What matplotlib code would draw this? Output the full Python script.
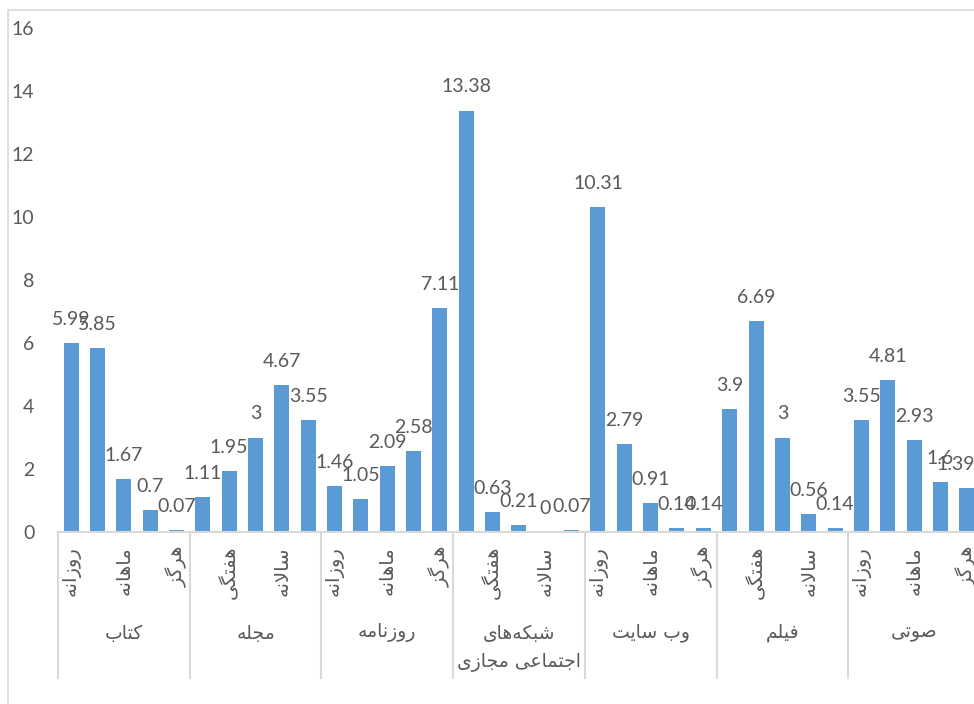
import numpy as np
import matplotlib
matplotlib.use('Agg')
import matplotlib.pyplot as plt
from matplotlib.patches import Rectangle
from matplotlib.lines import Line2D

plt.rcParams['font.family'] = ['Lato', 'DejaVu Sans']

groups = ['کتاب', 'مجله', 'روزنامه', 'شبکه‌های\nاجتماعی مجازی', 'وب سایت', 'فیلم', 'صوتی']
periods = ['روزانه', 'هفتگی', 'ماهانه', 'سالانه', 'هرگز']
values = [
    [5.99, 5.85, 1.67, 0.7, 0.07],
    [1.11, 1.95, 3, 4.67, 3.55],
    [1.46, 1.05, 2.09, 2.58, 7.11],
    [13.38, 0.63, 0.21, 0, 0.07],
    [10.31, 2.79, 0.91, 0.14, 0.14],
    [3.9, 6.69, 3, 0.56, 0.14],
    [3.55, 4.81, 2.93, 1.6, 1.39],
]
yticks = [0, 2, 4, 6, 8, 10, 12, 14, 16]

# minimal arabic/persian shaping (matplotlib has no shaping engine)
FORMS = {
    'ا': ('\uFE8D', '\uFE8E'), 'ب': ('\uFE8F', '\uFE90', '\uFE91', '\uFE92'),
    'ت': ('\uFE95', '\uFE96', '\uFE97', '\uFE98'), 'ج': ('\uFE9D', '\uFE9E', '\uFE9F', '\uFEA0'),
    'ر': ('\uFEAD', '\uFEAE'), 'ز': ('\uFEAF', '\uFEB0'),
    'س': ('\uFEB1', '\uFEB2', '\uFEB3', '\uFEB4'), 'ش': ('\uFEB5', '\uFEB6', '\uFEB7', '\uFEB8'),
    'ص': ('\uFEB9', '\uFEBA', '\uFEBB', '\uFEBC'), 'ع': ('\uFEC9', '\uFECA', '\uFECB', '\uFECC'),
    'ف': ('\uFED1', '\uFED2', '\uFED3', '\uFED4'), 'ل': ('\uFEDD', '\uFEDE', '\uFEDF', '\uFEE0'),
    'م': ('\uFEE1', '\uFEE2', '\uFEE3', '\uFEE4'), 'ن': ('\uFEE5', '\uFEE6', '\uFEE7', '\uFEE8'),
    'ه': ('\uFEE9', '\uFEEA', '\uFEEB', '\uFEEC'), 'و': ('\uFEED', '\uFEEE'),
    'ک': ('\uFB8E', '\uFB8F', '\uFB90', '\uFB91'), 'گ': ('\uFB92', '\uFB93', '\uFB94', '\uFB95'),
    'ی': ('\uFBFC', '\uFBFD', '\uFBFE', '\uFBFF'),
}


def shape_line(s):
    out = []
    i = 0
    prev_dual = False
    while i < len(s):
        c = s[i]
        if c not in FORMS:
            if c != '\u200c':
                out.append(c)
            prev_dual = False
            i += 1
            continue
        nxt = s[i + 1] if i + 1 < len(s) else ''
        if c == 'ل' and nxt == 'ا':
            out.append('\uFEFC' if prev_dual else '\uFEFB')
            prev_dual = False
            i += 2
            continue
        f = FORMS[c]
        dual = len(f) == 4
        joins_next = dual and nxt in FORMS
        if prev_dual and joins_next:
            g = f[3]
        elif prev_dual:
            g = f[1]
        elif joins_next:
            g = f[2]
        else:
            g = f[0]
        out.append(g)
        prev_dual = dual
        i += 1
    return ''.join(out)[::-1]


def fa(s):
    return '\n'.join(shape_line(l) for l in s.split('\n'))


bar_color = '#5B9BD5'
txt = '#595959'
line_c = '#D9D9D9'

fig = plt.figure(figsize=(9.74, 7.04), dpi=100)
W, H = 974, 704
slot_px = 26.34
x0 = 58
ax = fig.add_axes([x0 / W, (H - 532) / H, (W - x0) / W, (532 - 28) / H])

n = len(periods)
xs = []
ys = []
for gi, row in enumerate(values):
    for pi, v in enumerate(row):
        xs.append(gi * n + pi + 0.5)
        ys.append(v)
xs = np.array(xs)
ax.bar(xs, ys, width=0.57, color=bar_color, zorder=2)
for k, (x, v) in enumerate(zip(xs, ys)):
    # last label nudged left so it stays inside the chart, as excel does
    dx = -8 if k == len(xs) - 1 else 0
    ax.annotate(f'{v:g}', (x, v), xytext=(dx, 13), textcoords='offset points',
                ha='center', va='baseline', fontsize=14, color=txt)

ax.set_xlim(0, (W - x0) / slot_px)
ax.set_ylim(0, 16)
ax.set_yticks(yticks)
ax.tick_params(axis='y', length=0, pad=17, labelsize=14, labelcolor=txt)
ax.set_xticks([])
for s in ['top', 'right', 'left']:
    ax.spines[s].set_visible(False)
ax.spines['bottom'].set_color(line_c)
ax.spines['bottom'].set_linewidth(1.5)

# category labels (every other slot, like Excel's auto skip)
trans = ax.get_xaxis_transform()
py = 504.0  # axes height in px
for k, x in enumerate(xs):
    if k % 2 == 0:
        ax.text(x, -14 / py, fa(periods[k % n]), rotation=90, ha='center', va='top',
                transform=trans, fontsize=14, color=txt, family='DejaVu Sans')

ybot = -(678 - 532) / py
for gi in range(len(groups) + 1):
    ax.add_line(Line2D([gi * n, gi * n], [0, ybot], transform=trans, color=line_c,
                       lw=1.5, clip_on=False))
for gi, g in enumerate(groups):
    yc = 648 if '\n' in g else 633
    ax.text(gi * n + n / 2, -(yc - 532) / py, fa(g), ha='center', va='center',
            transform=trans, fontsize=13.5, color=txt, family='DejaVu Sans',
            linespacing=1.6)

# chart frame
fig.patches.append(Rectangle((8 / W, -0.05), 1.2, (H - 10) / H + 0.05, transform=fig.transFigure,
                             fill=False, edgecolor=line_c, lw=1.2))

fig.savefig('out.png', dpi=100)
